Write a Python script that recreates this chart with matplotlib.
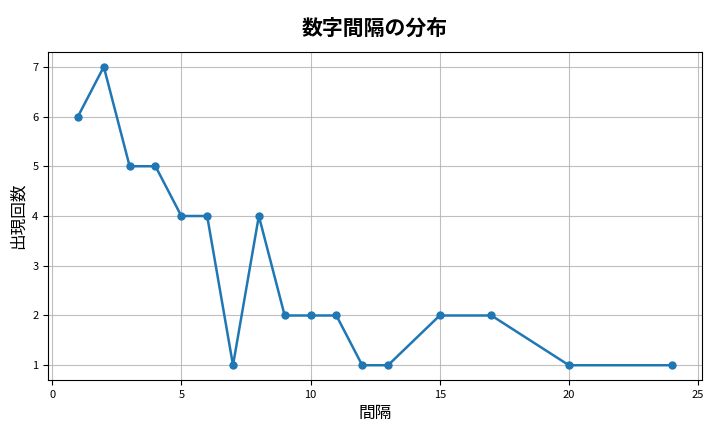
import matplotlib
matplotlib.use("Agg")
import matplotlib.pyplot as plt

plt.rcParams['font.family'] = ['Noto Sans CJK JP', 'DejaVu Sans']

gaps = [1, 2, 3, 4, 5, 6, 7, 8, 9, 10, 11, 12, 13, 15, 17, 20, 24]
counts = [6, 7, 5, 5, 4, 4, 1, 4, 2, 2, 2, 1, 1, 2, 2, 1, 1]

fig, ax = plt.subplots(figsize=(7.2, 4.32), dpi=100)
ax.plot(gaps, counts, marker='o', color='#1f77b4', linewidth=1.8, markersize=5)
ax.set_title('数字間隔の分布', fontsize=15, fontweight='bold', pad=12)
ax.set_xlabel('間隔', fontsize=12)
ax.set_ylabel('出現回数', fontsize=12)
ax.tick_params(labelsize=8)
ax.grid(True, alpha=0.8)
fig.subplots_adjust(left=0.067, right=0.975, top=0.88, bottom=0.12)
fig.savefig('out.png')
